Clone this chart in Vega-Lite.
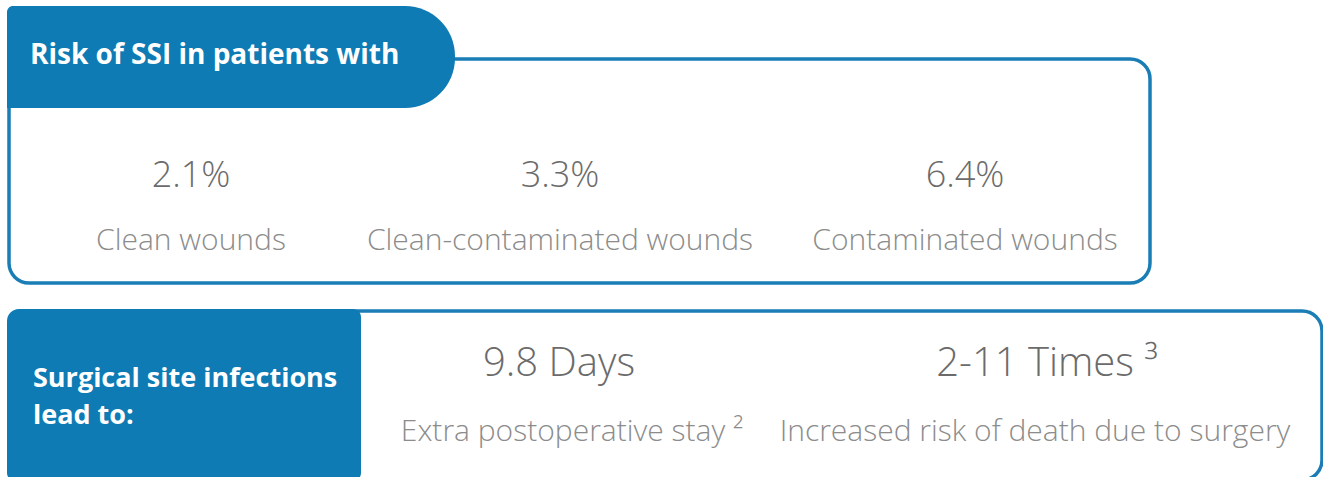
{
  "$schema": "https://vega.github.io/schema/vega-lite/v6.json",
  "width": 1323,
  "height": 477,
  "padding": 0,
  "autosize": {"type": "none"},
  "background": "white",
  "config": {"view": {"stroke": null}, "axis": {"disable": true}},
  "datasets": {
    "panels": [
      {"panel": "risk", "title": "Risk of SSI in patients with"},
      {"panel": "impact", "title": ["Surgical site infections", "lead to:"]}
    ],
    "stats": [
      {"panel": "risk", "order": 1, "value": "2.1%", "item": "Clean wounds"},
      {"panel": "risk", "order": 2, "value": "3.3%", "item": "Clean-contaminated wounds"},
      {"panel": "risk", "order": 3, "value": "6.4%", "item": "Contaminated wounds"},
      {"panel": "impact", "order": 4, "value": "9.8 Days", "item": "Extra postoperative stay ²"},
      {"panel": "impact", "order": 5, "value": "2-11 Times ³", "item": "Increased risk of death due to surgery"}
    ]
  },
  "resolve": {"scale": {"x": "independent", "y": "independent", "size": "independent"}},
  "layer": [
    {
      "data": {"name": "panels"},
      "transform": [{"filter": "datum.panel === 'risk'"}],
      "mark": {"type": "rect", "fill": "white", "stroke": "#1a7db6", "strokeWidth": 3.5, "cornerRadius": 20},
      "encoding": {
        "x": {"field": "panel", "type": "nominal", "axis": null, "scale": {"type": "band", "range": [9, 1150], "paddingInner": 0, "paddingOuter": 0}},
        "y": {"field": "panel", "type": "nominal", "axis": null, "scale": {"type": "band", "range": [59, 283], "paddingInner": 0, "paddingOuter": 0}}
      }
    },
    {
      "data": {"name": "panels"},
      "transform": [{"filter": "datum.panel === 'impact'"}],
      "mark": {"type": "rect", "fill": "white", "stroke": "#1a7db6", "strokeWidth": 3.5, "cornerRadius": 20},
      "encoding": {
        "x": {"field": "panel", "type": "nominal", "axis": null, "scale": {"type": "band", "range": [9, 1322], "paddingInner": 0, "paddingOuter": 0}},
        "y": {"field": "panel", "type": "nominal", "axis": null, "scale": {"type": "band", "range": [311, 480], "paddingInner": 0, "paddingOuter": 0}}
      }
    },
    {
      "data": {"name": "panels"},
      "transform": [{"filter": "datum.panel === 'risk'"}],
      "mark": {"type": "rect", "fill": "#0e7bb4", "cornerRadiusTopLeft": 6, "cornerRadiusTopRight": 50, "cornerRadiusBottomRight": 50, "cornerRadiusBottomLeft": 0},
      "encoding": {
        "x": {"field": "panel", "type": "nominal", "axis": null, "scale": {"type": "band", "range": [7, 455], "paddingInner": 0, "paddingOuter": 0}},
        "y": {"field": "panel", "type": "nominal", "axis": null, "scale": {"type": "band", "range": [6, 108], "paddingInner": 0, "paddingOuter": 0}}
      }
    },
    {
      "data": {"name": "panels"},
      "transform": [{"filter": "datum.panel === 'impact'"}],
      "mark": {"type": "rect", "fill": "#0e7bb4", "cornerRadiusTopLeft": 12, "cornerRadiusTopRight": 8, "cornerRadiusBottomRight": 8, "cornerRadiusBottomLeft": 8},
      "encoding": {
        "x": {"field": "panel", "type": "nominal", "axis": null, "scale": {"type": "band", "range": [7, 361], "paddingInner": 0, "paddingOuter": 0}},
        "y": {"field": "panel", "type": "nominal", "axis": null, "scale": {"type": "band", "range": [309, 481], "paddingInner": 0, "paddingOuter": 0}}
      }
    },
    {
      "data": {"name": "panels"},
      "mark": {"type": "text", "align": "left", "baseline": "alphabetic", "font": "Open Sans", "fontWeight": "bold", "lineHeight": 37, "color": "white"},
      "encoding": {
        "x": {"field": "panel", "type": "nominal", "axis": null, "scale": {"type": "point", "domain": ["risk", "impact"], "range": [30, 33], "padding": 0}},
        "y": {"field": "panel", "type": "nominal", "axis": null, "scale": {"type": "point", "domain": ["risk", "impact"], "range": [64, 387], "padding": 0}},
        "size": {"field": "panel", "type": "nominal", "legend": null, "scale": {"type": "ordinal", "domain": ["risk", "impact"], "range": [28, 27]}},
        "text": {"field": "title"}
      }
    },
    {
      "data": {"name": "stats"},
      "mark": {"type": "text", "align": "center", "baseline": "alphabetic", "font": "Open Sans", "fontWeight": 300, "color": "#6b6b6b"},
      "encoding": {
        "x": {"field": "order", "type": "quantitative", "axis": null, "scale": {"type": "linear", "domain": [1, 2, 3, 4, 5], "range": [191, 560, 965, 559, 1047], "zero": false, "nice": false}},
        "y": {"field": "panel", "type": "nominal", "axis": null, "scale": {"type": "point", "domain": ["risk", "impact"], "range": [187, 376], "padding": 0}},
        "size": {"field": "panel", "type": "nominal", "legend": null, "scale": {"type": "ordinal", "domain": ["risk", "impact"], "range": [36, 40]}},
        "text": {"field": "value"}
      }
    },
    {
      "data": {"name": "stats"},
      "mark": {"type": "text", "align": "center", "baseline": "alphabetic", "font": "Open Sans", "fontWeight": 300, "fontSize": 30, "color": "#8c8c8c"},
      "encoding": {
        "x": {"field": "order", "type": "quantitative", "axis": null, "scale": {"type": "linear", "domain": [1, 2, 3, 4, 5], "range": [191, 560, 965, 572, 1035], "zero": false, "nice": false}},
        "y": {"field": "panel", "type": "nominal", "axis": null, "scale": {"type": "point", "domain": ["risk", "impact"], "range": [250, 441], "padding": 0}},
        "text": {"field": "item"}
      }
    }
  ]
}
